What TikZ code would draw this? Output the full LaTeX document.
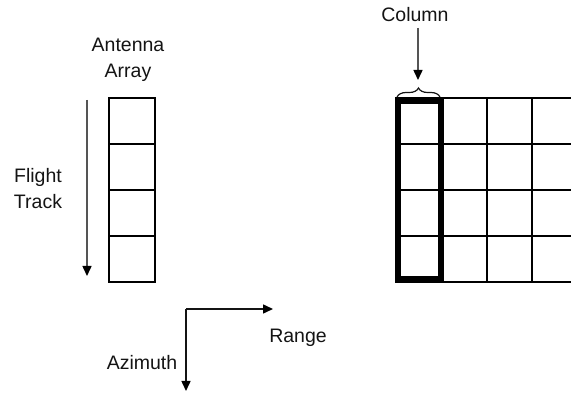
\documentclass[tikz,border=0pt]{standalone}
\usepackage{fontspec}
\setmainfont{Liberation Sans}
\usetikzlibrary{arrows.meta,decorations.pathreplacing}
\definecolor{ink}{HTML}{141414}
\definecolor{track}{HTML}{555555}
\tikzset{
  lbl/.style={text=ink, font=\fontsize{19.5}{26}\selectfont, align=center, inner sep=0pt},
  cell/.style={draw=black, line width=2.2pt, minimum width=46pt, minimum height=46pt, inner sep=0pt, outer sep=0pt},
  grid line/.style={draw=black, line width=2.2pt},
  tip/.style={-{Triangle[length=10pt,width=9pt,color=black,fill=black]}},
  pointer/.style={tip, draw=track, line width=1.5pt},
  axis/.style={tip, draw=ink, line width=1.5pt},
}
\begin{document}
\begin{tikzpicture}[x=1pt,y=-1pt]
\useasboundingbox (0,0) rectangle (571,398);

% antenna array: a column of four elements
\node[cell] (a1) at (132,121) {};
\node[cell] (a2) at (132,167) {};
\node[cell] (a3) at (132,213) {};
\node[cell] (a4) at (132,259) {};
\node[lbl] (antenna) at (128,60) {Antenna\\Array};

% flight track
\coordinate (ftop) at (87,100);
\coordinate (fbot) at (87,276);
\draw[pointer] (ftop) -- (fbot);
\node[lbl] (flight) at (38,189) {Flight\\Track};

% data grid, running off the right edge
\foreach \y in {98,144,190,236,282} \draw[grid line] (395,\y) -- (571,\y);
\foreach \x in {487,532} \draw[grid line] (\x,98) -- (\x,282);
% highlighted first column
\draw[draw=black, line width=6pt] (397.5,101) rectangle (440.5,279);

% column label with brace
\draw[decorate, decoration={brace, amplitude=9pt}, draw=ink, line width=1.2pt]
  (397,97) -- (440,97) coordinate[midway] (bmid);
\coordinate (btip) at (418,80);
\node[lbl] (column) at (415,15) {Column};
\draw[pointer] (418,28) -- (btip);

% range / azimuth axes
\coordinate (origin) at (186,309);
\coordinate (rend) at (273,309);
\coordinate (aend) at (186,391);
\draw[axis] (origin) -- (rend);
\draw[axis] (origin) -- (aend);
\node[lbl] (range) at (298,338) {Range};
\node[lbl] (azimuth) at (142,363) {Azimuth};
\end{tikzpicture}
\end{document}
